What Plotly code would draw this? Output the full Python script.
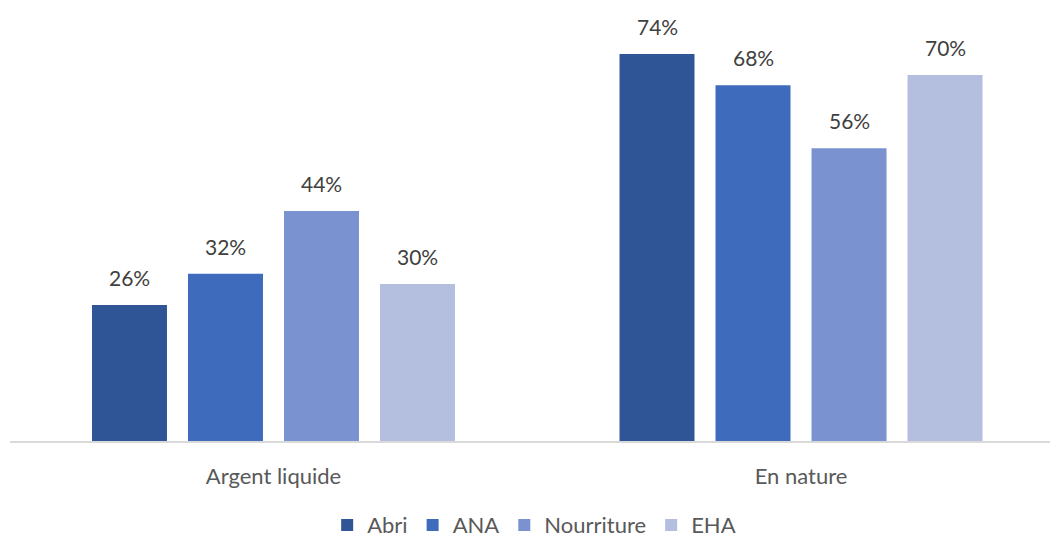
import plotly.graph_objects as go

categories = ["Argent liquide", "En nature"]
series_names = ["Abri", "ANA", "Nourriture", "EHA"]
values = {
    "Abri": [26, 74],
    "ANA": [32, 68],
    "Nourriture": [44, 56],
    "EHA": [30, 70],
}
colors = {
    "Abri": "#2F5597",
    "ANA": "#3E6BBC",
    "Nourriture": "#7A93D0",
    "EHA": "#B4BFE0",
}

FONT = "Gill Sans MT, Gill Sans, Lato, sans-serif"
bargap = 0.272
bargroupgap = 0.219

fig = go.Figure()
for name in series_names:
    fig.add_trace(go.Bar(
        name=name,
        x=categories,
        y=values[name],
        marker=dict(color=colors[name], line=dict(width=0)),
    ))

# value labels above each bar, placed at the grouped-bar slot centres
slot = (1 - bargap) / len(series_names)
annotations = []
for j, name in enumerate(series_names):
    for i, v in enumerate(values[name]):
        annotations.append(dict(
            x=i + (j - (len(series_names) - 1) / 2) * slot,
            y=v,
            xref="x", yref="y",
            text=f"{v}%",
            showarrow=False,
            yanchor="bottom",
            yshift=13,
            font=dict(family=FONT, size=21, color="#404040"),
        ))

fig.update_layout(
    width=1050, height=538,
    margin=dict(l=10, r=0, t=20, b=97),
    paper_bgcolor="white", plot_bgcolor="white",
    barmode="group", bargap=bargap, bargroupgap=bargroupgap,
    font=dict(family=FONT, size=22, color="#595959"),
    annotations=annotations,
    showlegend=True,
    legend=dict(
        orientation="h", x=0.504, xanchor="center",
        yref="container", y=0.024, yanchor="middle",
        font=dict(family=FONT, size=22, color="#595959"),
        itemwidth=30, tracegroupgap=0,
    ),
    xaxis=dict(
        type="category",
        range=[-0.4995, 1.472],
        showline=True, linecolor="#D9D9D9", linewidth=2,
        ticks="", showgrid=False,
        ticklabelstandoff=15,
        tickfont=dict(family=FONT, size=22, color="#595959"),
    ),
    yaxis=dict(
        range=[0, 80.5],
        visible=False, showgrid=False, zeroline=False,
    ),
)

fig.write_html("out.html")
